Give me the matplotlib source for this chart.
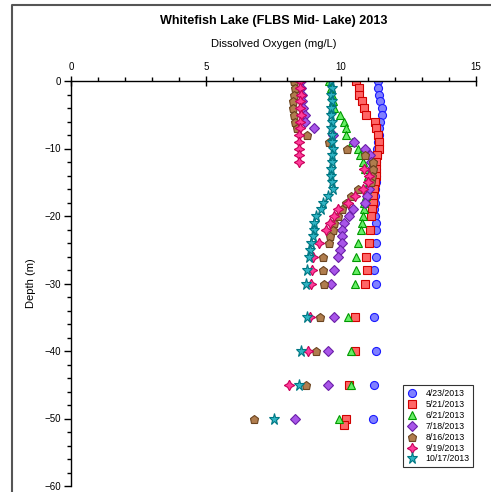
import matplotlib
matplotlib.use("Agg")
import matplotlib.pyplot as plt
from matplotlib.lines import Line2D
from matplotlib.ticker import MultipleLocator

plt.rcParams["font.family"] = ["Liberation Sans", "DejaVu Sans"]

# dissolved oxygen (mg/L) profiles by sampling date
dates = ["4/23/2013", "5/21/2013", "6/21/2013", "7/18/2013",
         "8/16/2013", "9/19/2013", "10/17/2013"]

depth_apr = list(range(0, 23)) + [24, 26, 28, 30, 35, 40, 45, 50]
do_apr = [11.36, 11.38, 11.42, 11.45, 11.5, 11.5, 11.45, 11.42, 11.4, 11.38,
          11.35, 11.32, 11.3, 11.3, 11.28, 11.28, 11.25, 11.25, 11.25, 11.22,
          11.25, 11.28, 11.3, 11.3, 11.28, 11.24, 11.3, 11.23, 11.28, 11.24, 11.18]

depth_may = list(range(0, 21)) + [22, 24, 26, 28, 30, 35, 40, 45, 50, 51]
do_may = [10.57, 10.66, 10.67, 10.79, 10.87, 10.94, 11.27, 11.28, 11.38, 11.4,
          11.4, 11.35, 11.3, 11.3, 11.28, 11.25, 11.22, 11.2, 11.18, 11.14,
          11.1, 11.06, 11.02, 10.92, 10.96, 10.9, 10.5, 10.5, 10.28, 10.18, 10.12]

depth_jun = list(range(0, 23)) + [24, 26, 28, 30, 35, 40, 45, 50]
do_jun = [9.57, 9.62, 9.66, 9.7, 9.75, 9.96, 10.12, 10.17, 10.17, 10.4,
          10.62, 10.72, 10.81, 10.9, 11.0, 11.02, 10.98, 10.92, 10.87, 10.84,
          10.8, 10.78, 10.75, 10.62, 10.56, 10.55, 10.53, 10.25, 10.37, 10.37, 9.93]

depth_jul = list(range(0, 27)) + [28, 30, 35, 40, 45, 50]
do_jul = [8.5, 8.52, 8.54, 8.56, 8.6, 8.65, 8.67, 9.01, 9.72, 10.49,
          10.9, 11.08, 11.12, 11.12, 11.08, 11.05, 11.02, 10.98, 10.9, 10.45,
          10.3, 10.1, 10.05, 10.05, 10.02, 9.96, 9.88, 9.73, 9.64, 9.75, 9.53,
          9.53, 8.28]

depth_aug = list(range(0, 25)) + [26, 28, 30, 35, 40, 45, 50]
do_aug = [8.27, 8.3, 8.25, 8.24, 8.22, 8.27, 8.3, 8.37, 8.73, 9.54,
          10.24, 10.9, 11.18, 11.2, 11.15, 11.1, 10.62, 10.36, 10.18, 10.03,
          9.88, 9.74, 9.69, 9.6, 9.54, 9.34, 9.33, 9.38, 9.23, 9.08, 8.69, 6.78]

depth_sep = list(range(0, 23)) + [24, 26, 28, 30, 35, 40, 45]
do_sep = [8.49, 8.48, 8.5, 8.49, 8.48, 8.5, 8.47, 8.48, 8.46, 8.46,
          8.46, 8.46, 8.46, 10.87, 11.05, 11.0, 10.83, 10.5, 10.25, 9.9,
          9.75, 9.6, 9.43, 9.18, 8.95, 8.92, 8.9, 8.86, 8.78, 8.07]

depth_oct = list(range(0, 27)) + [28, 30, 35, 40, 45, 50]
do_oct = [9.62, 9.65, 9.63, 9.66, 9.62, 9.64, 9.66, 9.63, 9.65, 9.68,
          9.7, 9.68, 9.66, 9.64, 9.62, 9.66, 9.7, 9.5, 9.35, 9.26,
          9.08, 9.01, 9.0, 8.96, 8.9, 8.85, 8.8, 8.74, 8.7, 8.73, 8.51,
          8.43, 7.5]

profiles = [(depth_apr, do_apr), (depth_may, do_may), (depth_jun, do_jun),
            (depth_jul, do_jul), (depth_aug, do_aug), (depth_sep, do_sep),
            (depth_oct, do_oct)]

styles = [
    dict(marker="o", ms=5.8, mfc="#8080ff", mec="#1a1aff"),
    dict(marker="s", ms=5.6, mfc="#ff6666", mec="#d00000"),
    dict(marker="^", ms=6.2, mfc="#66ee66", mec="#009900"),
    dict(marker="D", ms=5.0, mfc="#a855e8", mec="#6a1fa8"),
    dict(marker="p", ms=6.4, mfc="#b07d4e", mec="#6b4420"),
    dict(marker=(4, 1, 0), ms=7.5, mfc="#ff3d9a", mec="#c8005a"),
    dict(marker="*", ms=8.2, mfc="#30b4c4", mec="#007884"),
]

W, H = 491, 492
fig = plt.figure(figsize=(W / 100, H / 100), dpi=100)
ax = fig.add_axes([71 / W, 1 - 486 / H, (476 - 71) / W, (486 - 81) / H])

for (dep, do), label, st in zip(profiles, dates, styles):
    ax.plot(do, [-d for d in dep], linestyle="none", mew=0.8, label=label, **st)

ax.set_xlim(0, 15)
ax.set_ylim(-60, 0)
ax.xaxis.set_major_locator(MultipleLocator(5))
ax.xaxis.set_minor_locator(MultipleLocator(1))
ax.yaxis.set_major_locator(MultipleLocator(10))
ax.yaxis.set_minor_locator(MultipleLocator(2))
ax.xaxis.tick_top()
ax.spines["right"].set_visible(False)
ax.spines["bottom"].set_visible(False)
for s in ("top", "left"):
    ax.spines[s].set_linewidth(1.0)
ax.tick_params(axis="x", which="major", direction="inout", length=7, width=1,
               labelsize=7, pad=3)
ax.tick_params(axis="x", which="minor", direction="out", length=3, width=1)
ax.tick_params(axis="y", which="major", direction="out", length=5, width=1,
               labelsize=7, pad=2)
ax.tick_params(axis="y", which="minor", direction="out", length=3, width=1)
ax.patch.set_visible(False)

fig.text(274 / W, 1 - 21 / H, "Whitefish Lake (FLBS Mid- Lake) 2013",
         ha="center", va="center", fontsize=9.1, fontweight="bold")
fig.text(273.5 / W, 1 - 44 / H, "Dissolved Oxygen (mg/L)",
         ha="center", va="center", fontsize=8)
fig.text(31 / W, 1 - 283.5 / H, "Depth (m)", rotation=90,
         ha="center", va="center", fontsize=8)

leg = ax.legend(loc="upper left", bbox_to_anchor=(403 / W, 1 - 385 / H),
                bbox_transform=fig.transFigure, borderaxespad=0, fontsize=6.3,
                frameon=True, fancybox=False, handlelength=1.2,
                handletextpad=0.9, labelspacing=0.22, borderpad=0.45)
leg.get_frame().set_edgecolor("black")
leg.get_frame().set_linewidth(0.8)

# outer frame of the page, partly cut off
fig.add_artist(Line2D([12 / W, 12 / W, 1.0], [0.0, 1 - 5 / H, 1 - 5 / H],
                      transform=fig.transFigure, color="#555555", lw=1.5))

fig.savefig("out.png", dpi=100)
